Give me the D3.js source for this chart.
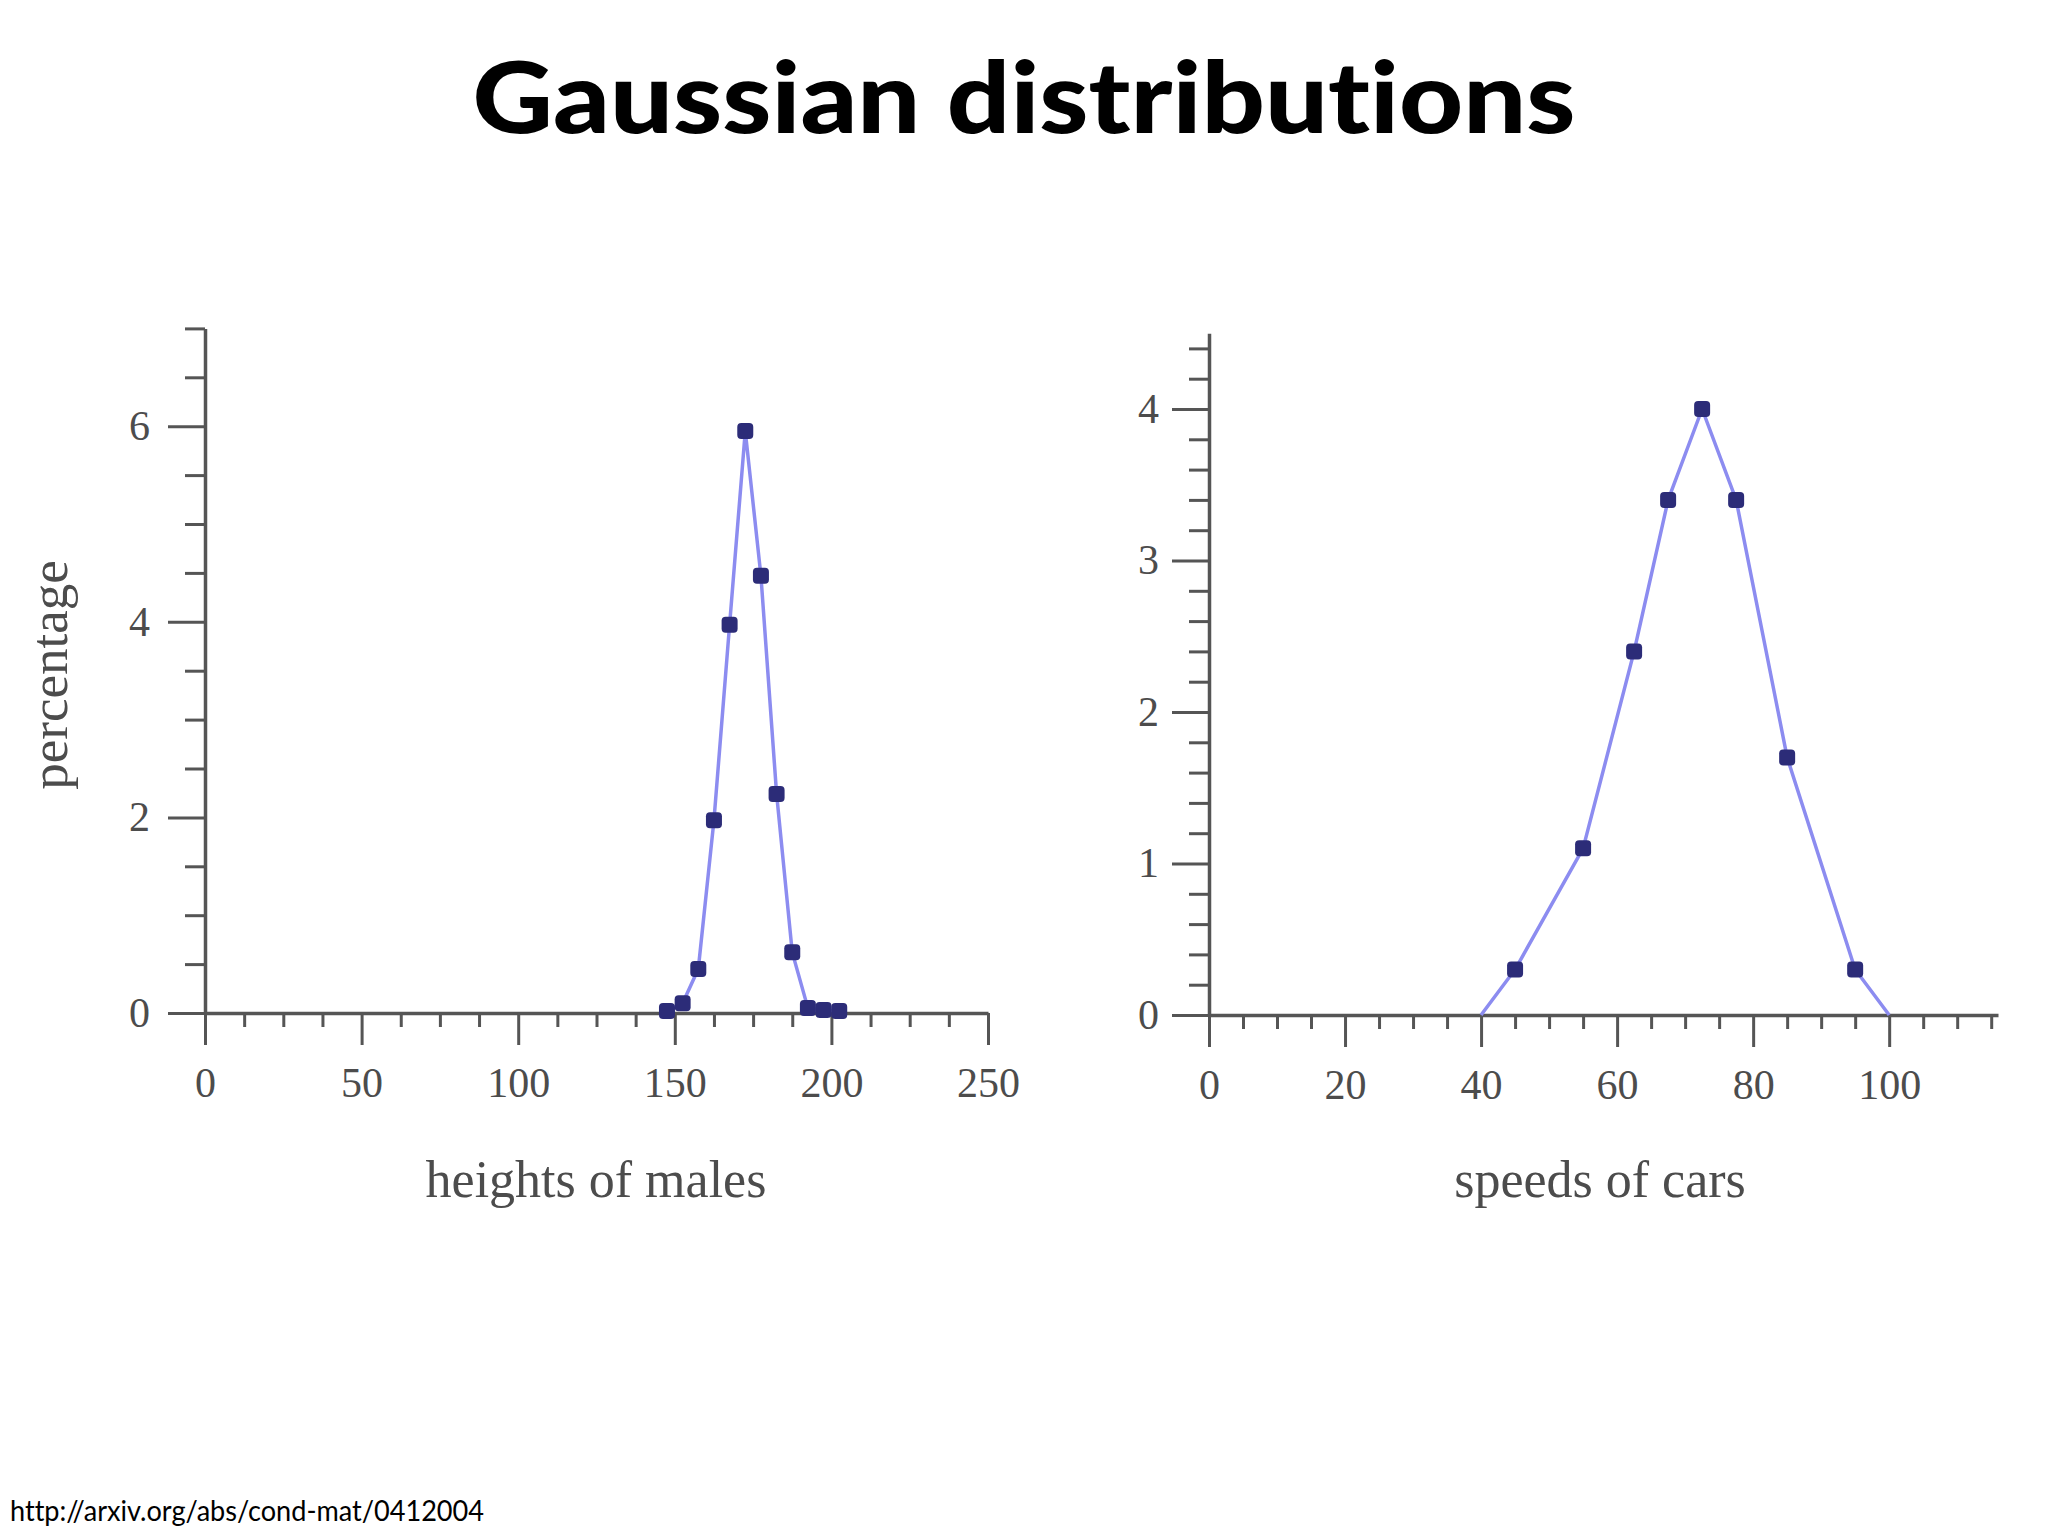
<!DOCTYPE html>
<html><head><meta charset="utf-8">
<script src="https://cdn.jsdelivr.net/npm/d3@7"></script>
<style>html,body{margin:0;padding:0;background:#fff}svg{display:block}text{font-variant-ligatures:none;font-feature-settings:"liga" 0}</style>
</head><body>
<script>
// ---------- data ----------
const titleText = "Gaussian distributions";
const sourceText = "http://arxiv.org/abs/cond-mat/0412004";

// left panel: heights of males
const heightBins = [147.5, 152.5, 157.5, 162.5, 167.5, 172.5, 177.5, 182.5, 187.5, 192.5, 197.5, 202.5];
const heightPct  = [0.02, 0.10, 0.45, 1.97, 3.97, 5.95, 4.47, 2.24, 0.62, 0.05, 0.03, 0.02];
const heightTicksX = [0, 50, 100, 150, 200, 250];
const heightTicksY = [0, 2, 4, 6];
const heightXLabel = "heights of males";
const heightYLabel = "percentage";

// right panel: speeds of cars
const speedBins = [40, 45, 55, 62.5, 67.5, 72.5, 77.5, 85, 95, 100];
const speedPct  = [0, 0.30, 1.10, 2.40, 3.40, 4.00, 3.40, 1.70, 0.30, 0];
const speedMarked = [false, true, true, true, true, true, true, true, true, false];
const speedTicksX = [0, 20, 40, 60, 80, 100];
const speedTicksY = [0, 1, 2, 3, 4];
const speedXLabel = "speeds of cars";

// ---------- drawing ----------
const W = 2048, H = 1536;
const svg = d3.select("body").append("svg").attr("width", W).attr("height", H);
svg.append("rect").attr("width", W).attr("height", H).attr("fill", "#fff");

const AXIS = "#555", TXT = "#4c4c4c", LINE = "#8c8cf0", MARK = "#2c2c78";
const SERIF = "'Liberation Serif','Times New Roman',serif";

svg.append("text").text(titleText)
  .attr("x", 1024).attr("y", 133).attr("text-anchor", "middle")
  .attr("font-family", "Lato, 'Open Sans', sans-serif").attr("font-weight", 900)
  .attr("font-size", 100).attr("fill", "#000")
  .attr("textLength", 1103).attr("lengthAdjust", "spacingAndGlyphs");

svg.append("text").text(sourceText)
  .attr("x", 10).attr("y", 1521)
  .attr("font-family", "Lato, 'Open Sans', sans-serif").attr("font-size", 28).attr("fill", "#000")
  .attr("textLength", 474).attr("lengthAdjust", "spacingAndGlyphs");

function styleAxis(sel) {
  sel.select(".domain").attr("stroke", AXIS).attr("stroke-width", 3.5);
  sel.selectAll(".tick line").attr("stroke", AXIS).attr("stroke-width", 3);
  sel.selectAll(".tick text").attr("fill", TXT).attr("font-family", SERIF).attr("font-size", 42);
}

function panel(cfg) {
  const x = d3.scaleLinear().domain(cfg.xDomain).range(cfg.xRange);
  const y = d3.scaleLinear().domain(cfg.yDomain).range(cfg.yRange);
  const g = svg.append("g");
  const x0 = x(0), y0 = y(0);

  const minorX = d3.range(0, cfg.xDomain[1] + 1e-9, cfg.xMinor).filter(v => !cfg.ticksX.some(t => Math.abs(t - v) < 1e-9));
  const minorY = d3.range(0, cfg.yDomain[1] + 1e-9, cfg.yMinor).filter(v => !cfg.ticksY.some(t => Math.abs(t - v) < 1e-9));

  // minor ticks
  g.append("g").attr("transform", `translate(0,${y0})`)
    .call(d3.axisBottom(x).tickValues(minorX).tickSize(14).tickSizeOuter(0).tickFormat(""))
    .call(styleAxis).call(s => s.select(".domain").remove());
  g.append("g").attr("transform", `translate(${x0},0)`)
    .call(d3.axisLeft(y).tickValues(minorY).tickSize(20).tickSizeOuter(0).tickFormat(""))
    .call(styleAxis).call(s => s.select(".domain").remove());

  // major axes
  g.append("g").attr("transform", `translate(0,${y0})`)
    .call(d3.axisBottom(x).tickValues(cfg.ticksX).tickSize(32).tickSizeOuter(0).tickPadding(22).tickFormat(d3.format("d")))
    .call(styleAxis);
  g.append("g").attr("transform", `translate(${x0},0)`)
    .call(d3.axisLeft(y).tickValues(cfg.ticksY).tickSize(37).tickSizeOuter(0).tickPadding(cfg.yPad).tickFormat(d3.format("d")))
    .call(styleAxis);

  // line + markers
  const line = d3.line().x(d => x(d[0])).y(d => y(d[1]));
  const pts = cfg.xs.map((v, i) => [v, cfg.ys[i], cfg.marked ? cfg.marked[i] : true]);
  g.append("path").datum(pts).attr("d", line)
    .attr("fill", "none").attr("stroke", LINE).attr("stroke-width", 3.5).attr("stroke-linejoin", "round");
  g.selectAll("rect.pt").data(pts.filter(d => d[2])).join("rect").attr("class", "pt")
    .attr("x", d => x(d[0]) - 8).attr("y", d => y(d[1]) - 8)
    .attr("width", 16).attr("height", 16).attr("rx", 4)
    .attr("fill", MARK);

  // axis titles
  g.append("text").text(cfg.xLabel)
    .attr("x", cfg.xLabelX).attr("y", 1197).attr("text-anchor", "middle")
    .attr("font-family", SERIF).attr("font-size", 52).attr("fill", TXT);
  if (cfg.yLabel) {
    g.append("text").text(cfg.yLabel)
      .attr("transform", `translate(67,675) rotate(-90)`).attr("text-anchor", "middle")
      .attr("font-family", SERIF).attr("font-size", 53).attr("fill", TXT);
  }
}

panel({
  xDomain: [0, 250], xRange: [205, 988],
  yDomain: [0, 7], yRange: [1013, 328.4],
  xMinor: 12.5, yMinor: 0.5, yPad: 18,
  ticksX: heightTicksX, ticksY: heightTicksY,
  xs: heightBins, ys: heightPct,
  xLabel: heightXLabel, xLabelX: 596, yLabel: heightYLabel
});

panel({
  xDomain: [0, 116], xRange: [1209, 1998],
  yDomain: [0, 4.5], yRange: [1015, 333.25],
  xMinor: 5, yMinor: 0.2, yPad: 13,
  ticksX: speedTicksX, ticksY: speedTicksY,
  xs: speedBins, ys: speedPct, marked: speedMarked,
  xLabel: speedXLabel, xLabelX: 1600
});
</script>
</body></html>
